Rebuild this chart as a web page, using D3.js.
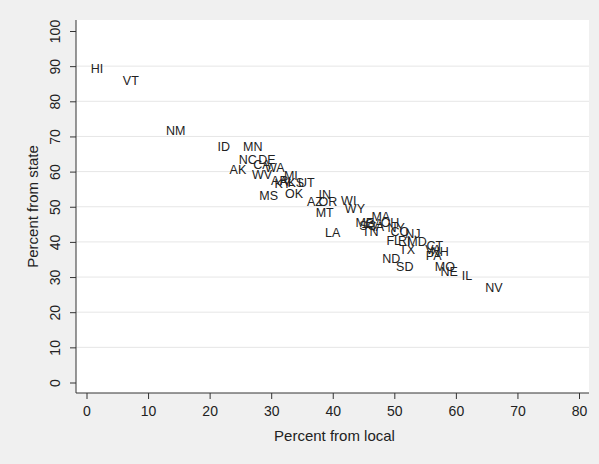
<!DOCTYPE html>
<html>
<head>
<meta charset="utf-8">
<script src="https://cdn.jsdelivr.net/npm/d3@7"></script>
<style>
  body { margin: 0; background: #f0f0f0; }
  svg { display: block; font-family: "Liberation Sans", Arial, sans-serif; }
</style>
</head>
<body>
<div id="chart"></div>
<script>
// State codes with percent of revenue from local and from state sources
const states = ['HI', 'VT', 'NM', 'ID', 'MN', 'NC', 'DE', 'CA', 'WA', 'AK',
  'WV', 'MI', 'AR', 'KY', 'AL', 'KS', 'UT', 'MS', 'OK', 'IN',
  'AZ', 'OR', 'MT', 'LA', 'WI', 'WY', 'MA', 'ME', 'SC', 'GA',
  'IA', 'TN', 'OH', 'NY', 'CO', 'NJ', 'FL', 'RI', 'MD', 'CT',
  'TX', 'NH', 'VA', 'PA', 'ND', 'SD', 'MO', 'NE', 'IL', 'NV'];
const pctLocal = [1.7, 7.2, 14.5, 22.3, 27.0, 26.2, 29.3, 28.5, 30.6, 24.6,
  28.5, 33.2, 31.4, 31.9, 32.6, 34.0, 35.7, 29.6, 33.7, 38.7,
  37.1, 39.2, 38.7, 40.0, 42.6, 43.6, 47.8, 45.2, 45.7, 46.7,
  47.4, 46.1, 49.3, 50.3, 50.9, 53.0, 49.9, 51.6, 53.7, 56.6,
  52.1, 57.4, 56.3, 56.4, 49.5, 51.7, 58.2, 58.9, 61.8, 66.2];
const pctState = [89.3, 85.8, 71.8, 67.0, 67.0, 63.4, 63.4, 62.0, 61.1, 60.5,
  59.3, 59.0, 57.6, 56.5, 57.3, 57.0, 56.8, 53.3, 53.9, 53.6,
  51.4, 51.4, 48.5, 42.8, 51.9, 49.4, 47.1, 45.4, 44.8, 45.1,
  44.5, 43.1, 45.4, 44.0, 43.1, 42.5, 40.5, 40.3, 40.0, 39.1,
  37.7, 37.4, 37.7, 36.0, 35.4, 32.9, 32.9, 31.7, 30.3, 26.9];
const xTicks = [0, 10, 20, 30, 40, 50, 60, 70, 80];
const yTicks = [0, 10, 20, 30, 40, 50, 60, 70, 80, 90, 100];

const width = 599;
const height = 464;
const plot = { left: 76, top: 20, right: 589, bottom: 393 };

const svg = d3.select('#chart')
  .append('svg')
  .attr('width', width)
  .attr('height', height);

// graph region
svg.append('rect')
  .attr('width', width)
  .attr('height', height)
  .attr('fill', '#f0f0f0');

svg.append('rect')
  .attr('x', plot.left)
  .attr('y', plot.top)
  .attr('width', plot.right - plot.left)
  .attr('height', plot.bottom - plot.top)
  .attr('fill', '#ffffff');

const x = d3.scaleLinear().domain([0, 80]).range([86.5, 579]);
const y = d3.scaleLinear().domain([0, 100]).range([382.5, 31]);

// horizontal grid, skipping the ends
svg.append('g')
  .selectAll('line')
  .data(yTicks.slice(1, -1))
  .enter()
  .append('line')
  .attr('x1', plot.left)
  .attr('x2', plot.right)
  .attr('y1', d => y(d))
  .attr('y2', d => y(d))
  .attr('stroke', '#e6e6e6')
  .attr('stroke-width', 1);

// axes
const xAxis = svg.append('g')
  .attr('transform', `translate(0,${plot.bottom})`)
  .call(d3.axisBottom(x).tickValues(xTicks).tickSize(6).tickPadding(7).tickSizeOuter(0));
xAxis.select('.domain').attr('d', `M${plot.left},0H${plot.right}`);

const yAxis = svg.append('g')
  .attr('transform', `translate(${plot.left},0)`)
  .call(d3.axisLeft(y).tickValues(yTicks).tickSize(6).tickPadding(4).tickSizeOuter(0));
yAxis.select('.domain').attr('d', `M0,${plot.top}V${plot.bottom}`);

svg.selectAll('.domain, .tick line').attr('stroke', '#333');
svg.selectAll('.tick text')
  .attr('fill', '#222')
  .style('font-size', '14px')
  .style('font-family', '"Liberation Sans", Arial, sans-serif');

// rotate y tick labels
yAxis.selectAll('.tick text')
  .attr('transform', 'rotate(-90)')
  .attr('x', 0)
  .attr('y', -16)
  .attr('dy', 0)
  .style('text-anchor', 'middle');

// axis titles
svg.append('text')
  .attr('x', (plot.left + plot.right) / 2 + 2)
  .attr('y', 441)
  .style('text-anchor', 'middle')
  .style('font-size', '15px')
  .attr('fill', '#222')
  .text('Percent from local');

svg.append('text')
  .attr('transform', `translate(38,${(plot.top + plot.bottom) / 2}) rotate(-90)`)
  .style('text-anchor', 'middle')
  .style('font-size', '15px')
  .attr('fill', '#222')
  .text('Percent from state');

// state labels as markers
svg.append('g')
  .selectAll('text')
  .data(states)
  .enter()
  .append('text')
  .attr('x', (d, i) => x(pctLocal[i]))
  .attr('y', (d, i) => y(pctState[i]))
  .attr('dy', '0.36em')
  .style('text-anchor', 'middle')
  .style('font-size', '12.5px')
  .attr('fill', '#222')
  .text(d => d);
</script>
</body>
</html>
